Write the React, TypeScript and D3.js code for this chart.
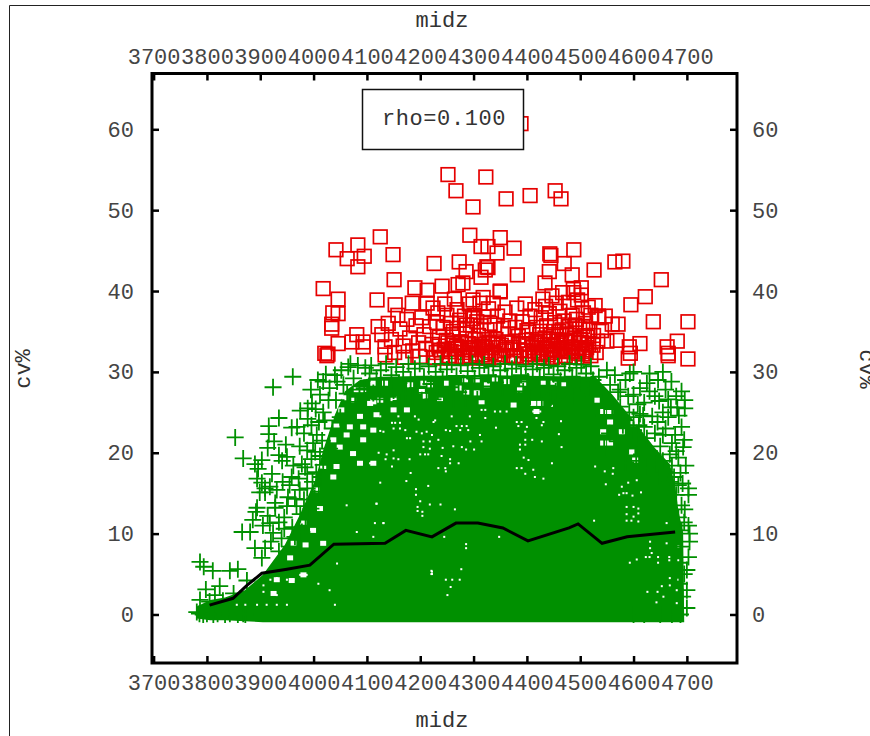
import { useEffect, useRef } from "react";
import * as d3 from "d3";

type Pt = [number, number];

const xTicks = [3700, 3800, 3900, 4000, 4100, 4200, 4300, 4400, 4500, 4600, 4700];
const yTicks = [0, 10, 20, 30, 40, 50, 60];

// black mean line
const meanLine: Pt[] = [
  [3805, 1.15], [3849, 2.0], [3875, 3.6], [3903, 5.1], [3950, 5.6], [3993, 6.1], [4038, 8.7], [4134, 8.8],
  [4173, 10.4], [4222, 9.6], [4267, 11.3], [4308, 11.3], [4355, 10.7], [4402, 9.1], [4479, 10.7],
  [4496, 11.2], [4541, 8.8], [4588, 9.6], [4678, 10.2],
];

// squares above the cut, the loose ones
const redOuter: Pt[] = [
  [4389, 60.7], [4252, 54.4], [4267, 52.4], [4323, 54.1], [4299, 50.4], [4361, 51.4], [4406, 51.8], [4453, 52.4],
  [4464, 51.4], [4293, 46.9], [4314, 45.5], [4327, 45.5], [4350, 46.6], [4344, 44.7], [4376, 45.3], [4125, 46.7],
  [4042, 45.1], [4083, 45.7], [4063, 44.0], [4095, 44.3], [4083, 43.0], [4149, 44.5], [4226, 43.4], [4273, 43.6],
  [4286, 42.4], [4325, 43.0], [4327, 42.9], [4322, 42.6], [4314, 41.7], [4382, 42.0], [4151, 41.4], [4018, 40.3],
  [4046, 39.0], [4119, 38.9], [4036, 37.3], [4046, 37.2], [4034, 35.9], [4034, 35.4], [4046, 33.5], [4081, 34.6],
  [4072, 33.7], [4093, 33.7], [4093, 33.1], [4021, 32.3], [4027, 32.2], [4025, 32.0], [4443, 44.6], [4445, 44.4],
  [4488, 45.1], [4470, 43.4], [4526, 42.6], [4565, 43.6], [4580, 43.7], [4442, 42.4], [4485, 42.0], [4652, 41.4],
  [4434, 41.0], [4350, 40.0], [4622, 39.3], [4595, 38.3], [4502, 40.4], [4488, 39.8], [4637, 36.2], [4702, 36.2],
  [4547, 36.9], [4534, 36.9], [4560, 35.9], [4571, 35.9], [4612, 33.5], [4682, 33.8], [4663, 33.1], [4665, 32.3],
  [4665, 32.0], [4702, 31.6], [4592, 33.1], [4594, 32.3], [4590, 31.7], [4550, 33.8], [4569, 33.9], [4524, 33.3],
];

// squares in the crowded band
const redDense: Pt[] = [
  [4128, 34.6], [4134, 33.1], [4134, 32.1], [4121, 35.6], [4140, 36.0], [4146, 34.0], [4152, 32.4], [4158, 37.0],
  [4153, 38.3], [4162, 35.3], [4168, 33.2], [4170, 31.8], [4175, 36.5], [4180, 34.2], [4185, 38.5], [4186, 32.6],
  [4190, 40.4], [4192, 35.7], [4197, 33.6], [4199, 31.9], [4203, 36.7], [4207, 34.6], [4210, 32.8], [4213, 38.5],
  [4213, 40.1], [4218, 35.6], [4222, 33.4], [4224, 37.9], [4227, 31.8], [4231, 36.1], [4233, 37.3], [4236, 34.3],
  [4238, 32.7], [4241, 40.6], [4243, 35.5], [4246, 38.4], [4250, 37.0], [4252, 33.6], [4255, 32.0], [4258, 36.0],
  [4260, 34.6], [4264, 39.0], [4266, 32.8], [4269, 37.7], [4271, 40.8], [4273, 35.4], [4276, 33.7], [4279, 31.9],
  [4280, 41.0], [4283, 36.9], [4286, 34.7], [4289, 32.7], [4292, 38.4], [4294, 35.8], [4297, 33.4], [4299, 38.9],
  [4301, 37.0], [4304, 32.2], [4306, 36.2], [4309, 34.5], [4312, 38.5], [4315, 33.2], [4318, 39.2], [4319, 36.8],
  [4322, 31.9], [4325, 35.2], [4328, 37.8], [4330, 33.7], [4333, 32.4], [4337, 38.5], [4339, 35.8], [4342, 34.0],
  [4345, 36.9], [4347, 32.1], [4350, 39.9], [4352, 33.3], [4356, 35.4], [4359, 37.4], [4362, 32.8], [4365, 34.7],
  [4368, 36.3], [4372, 33.6], [4375, 31.9], [4378, 35.5], [4381, 37.9], [4384, 34.4], [4387, 32.7], [4391, 36.2],
  [4394, 33.5], [4397, 38.4], [4400, 35.1], [4403, 32.2], [4406, 36.9], [4409, 34.0], [4412, 33.0], [4415, 37.7],
  [4418, 35.5], [4421, 32.4], [4424, 34.6], [4427, 36.7], [4430, 39.0], [4432, 33.3], [4435, 38.1], [4437, 35.7],
  [4440, 32.1], [4442, 37.2], [4445, 34.6], [4447, 39.4], [4449, 33.2], [4452, 36.1], [4455, 38.5], [4457, 32.6],
  [4460, 35.0], [4462, 37.5], [4465, 33.9], [4467, 39.8], [4470, 36.3], [4472, 32.0], [4475, 34.7], [4478, 38.6],
  [4480, 35.6], [4482, 33.1], [4485, 37.0], [4487, 40.2], [4489, 34.2], [4491, 32.5], [4493, 36.5], [4495, 38.9],
  [4497, 33.6], [4499, 35.3], [4502, 39.5], [4504, 32.2], [4506, 37.3], [4508, 34.5], [4510, 36.0], [4512, 33.0],
  [4515, 38.0], [4518, 35.2], [4528, 38.2], [4535, 36.7], [4540, 35.1], [4520, 37.0], [4525, 34.5], [4530, 32.4],
  [4533, 33.8], [4398, 33.9], [4404, 34.9], [4411, 32.1], [4417, 33.6], [4423, 31.8], [4428, 33.0], [4434, 34.2],
  [4439, 33.4], [4444, 32.4], [4450, 35.0], [4456, 34.0], [4461, 32.9], [4466, 35.2], [4471, 33.8], [4476, 32.5],
  [4481, 34.5], [4486, 33.0], [4490, 35.8], [4496, 32.3], [4501, 34.0], [4505, 35.6], [4509, 32.7], [4513, 34.3],
  [4262, 35.0], [4268, 33.2], [4274, 36.4], [4281, 32.4], [4287, 35.8], [4293, 33.0], [4298, 36.6], [4303, 34.0],
  [4308, 32.8], [4314, 35.7], [4320, 34.0], [4326, 32.6], [4331, 36.0], [4336, 33.5], [4230, 32.4], [4235, 33.2],
  [4240, 31.7], [4245, 32.8], [4249, 33.9], [4253, 31.8], [4258, 32.5], [4263, 33.5], [4267, 31.7], [4271, 32.9],
  [4278, 33.0], [4284, 31.8], [4290, 33.5], [4295, 32.0], [4300, 33.0], [4305, 31.7], [4311, 33.4], [4317, 32.1],
  [4323, 33.0], [4328, 31.7], [4334, 33.0], [4340, 32.2], [4346, 33.4], [4351, 31.8], [4357, 32.6], [4363, 33.6],
  [4369, 32.0], [4374, 33.0], [4380, 32.0], [4385, 33.4], [4390, 31.8], [4395, 32.6], [4401, 33.4], [4406, 31.8],
  [4414, 32.6], [4420, 33.6], [4426, 32.2], [4431, 31.7], [4437, 32.8], [4443, 33.8], [4448, 31.8], [4453, 32.7],
  [4458, 33.8], [4463, 31.9], [4468, 32.8], [4473, 33.7], [4478, 31.8], [4483, 32.6], [4488, 33.7], [4493, 31.8],
  [4498, 32.9], [4503, 33.6], [4507, 31.8], [4511, 32.5], [4516, 33.4], [4520, 32.0],
];

// the crosses that stay visible along the edge of the green mass
const greenLeft: Pt[] = [
  [3961, 29.4], [3924, 28.1], [3995, 27.8], [3935, 24.3], [3916, 23.3], [3916, 22.3], [3853, 21.9], [3959, 23.1],
  [3969, 23.2], [3868, 19.3], [3890, 18.6], [3903, 19.1], [3896, 18.0], [3935, 19.7], [3950, 19.5], [3941, 19.0],
  [3959, 17.0], [3894, 16.8], [3903, 16.3], [3909, 15.6], [3899, 15.1], [3918, 15.8], [3931, 15.4], [3909, 15.1],
  [3894, 13.2], [3928, 13.8], [3952, 14.5], [3974, 15.4], [3988, 15.6], [3965, 14.3], [3974, 20.8], [3988, 20.3],
  [4003, 20.1], [3984, 18.2], [3999, 21.2], [3989, 25.5], [3997, 26.1], [4018, 25.0], [3989, 24.2], [4021, 24.0],
  [4006, 22.2], [4042, 26.5], [4023, 29.7], [4044, 28.8], [4040, 29.6], [4065, 30.6], [4069, 31.0], [4097, 30.5],
  [4063, 27.3], [4069, 26.3], [3787, 6.5], [3794, 5.9], [3811, 5.4], [3843, 5.4], [3858, 5.6], [3798, 3.1],
  [3824, 3.5], [3787, 1.8], [3781, 0.3], [3875, 4.2], [3866, 10.2], [3886, 11.7], [3892, 12.7], [3881, 10.2],
  [3890, 8.2], [3903, 7.0], [3918, 11.3], [3924, 10.1], [3909, 8.2], [3928, 13.2], [3945, 12.0], [3960, 10.8],
  [3975, 12.4], [3940, 9.4], [3955, 8.4], [3985, 11.0], [3995, 13.1], [4010, 15.2], [4005, 17.6], [4018, 18.5],
  [4030, 20.5], [4016, 21.5], [4035, 23.0], [4050, 24.4], [4028, 26.5], [4056, 28.4], [4075, 29.2], [4086, 27.8],
  [4052, 30.2], [4083, 30.8], [4078, 26.0], [4095, 28.0], [4105, 29.8], [4012, 27.2], [4030, 28.0], [3786, 0.1],
  [3793, 0.0], [3800, 0.1], [3812, 0.0], [3820, 0.1], [3834, 0.0], [3843, 0.1], [3858, 0.0], [3868, 0.1],
  [3872, 0.0], [3805, 1.6], [3815, 2.4], [3830, 1.7], [3850, 2.6], [3862, 1.9], [3914, 12.2], [3935, 11.4],
  [3950, 13.4], [3968, 13.4], [3982, 14.2], [3905, 11.0], [3920, 9.0], [3935, 7.8], [3945, 10.6], [3965, 9.6],
  [3978, 10.2], [3992, 12.0], [4002, 14.4], [4014, 17.0], [3998, 16.4], [3988, 17.4], [3972, 16.8], [3955, 16.0],
  [3942, 16.4], [3922, 17.4], [3996, 19.2], [4012, 19.6], [3978, 18.6], [3962, 18.4], [3948, 21.0], [3982, 22.4],
  [3996, 23.4], [4010, 23.8], [3975, 25.2], [4004, 25.4], [3914, 20.6], [3926, 21.4], [4018, 28.8], [4008, 29.0],
];

const greenCenter: Pt[] = [
  [4108, 30.8], [4112, 27.4], [4118, 29.2], [4124, 26.6], [4126, 30.2], [4132, 28.1], [4136, 31.0], [4140, 26.9],
  [4146, 29.6], [4150, 27.7], [4155, 30.6], [4160, 28.6], [4164, 26.4], [4168, 30.0], [4172, 27.3], [4178, 31.0],
  [4182, 29.0], [4186, 26.8], [4190, 30.4], [4195, 28.0], [4199, 31.0], [4203, 26.5], [4207, 29.4], [4212, 27.4],
  [4216, 30.7], [4220, 28.5], [4224, 26.6], [4229, 30.0], [4233, 27.7], [4238, 31.0], [4242, 29.1], [4246, 26.9],
  [4250, 30.3], [4255, 28.1], [4259, 30.9], [4263, 26.6], [4268, 29.5], [4272, 27.5], [4276, 30.8], [4281, 28.6],
  [4285, 26.7], [4289, 30.1], [4294, 27.9], [4298, 31.0], [4302, 29.2], [4307, 26.6], [4311, 30.5], [4315, 28.2],
  [4320, 30.9], [4324, 26.9], [4328, 29.6], [4333, 27.7], [4337, 30.7], [4341, 28.7], [4346, 26.6], [4350, 30.2],
  [4354, 28.0], [4359, 31.0], [4363, 29.3], [4367, 26.8], [4372, 30.4], [4376, 28.2], [4380, 30.9], [4385, 26.6],
  [4389, 29.6], [4393, 27.6], [4398, 30.7], [4402, 28.8], [4406, 26.9], [4411, 30.3], [4415, 28.0], [4419, 31.0],
  [4424, 29.2], [4428, 26.6], [4432, 30.5], [4437, 28.3], [4441, 30.8], [4445, 26.8], [4450, 29.7], [4454, 27.6],
  [4458, 30.7], [4463, 28.9], [4467, 26.6], [4471, 30.2], [4476, 28.1], [4480, 31.0], [4485, 29.4], [4489, 27.0],
  [4493, 30.5], [4498, 28.4], [4502, 30.9], [4506, 27.4], [4511, 29.8], [4515, 28.0], [4520, 30.7], [4524, 29.0],
];

const greenRight: Pt[] = [
  [4593, 29.8], [4646, 29.0], [4671, 28.8], [4625, 28.6], [4612, 28.0], [4556, 28.4], [4571, 27.5], [4540, 27.3],
  [4525, 27.0], [4575, 25.7], [4696, 26.5], [4696, 25.5], [4693, 20.7], [4703, 15.6], [4703, 14.8], [4703, 11.0],
  [4705, 10.0], [4705, 9.0], [4703, 7.1], [4700, 5.5], [4700, 3.0], [4700, 0.8], [4690, 13.5], [4688, 17.5],
  [4690, 23.2], [4680, 27.0], [4660, 27.8], [4640, 27.0], [4620, 26.2], [4600, 27.2], [4585, 29.0], [4565, 29.6],
  [4550, 30.2], [4535, 29.4], [4690, 27.6], [4685, 24.6], [4670, 25.6], [4655, 25.0], [4635, 24.5], [4612, 24.8],
  [4592, 25.0], [4560, 25.4], [4545, 24.6], [4580, 23.4], [4600, 22.8], [4620, 23.2], [4640, 22.4], [4660, 23.0],
  [4678, 22.2], [4695, 21.6], [4555, 22.4], [4570, 21.4], [4590, 20.8], [4610, 21.0], [4630, 20.2], [4650, 20.8],
  [4668, 19.8], [4684, 19.4], [4698, 18.4], [4545, 20.6], [4565, 19.5], [4585, 18.8], [4605, 19.0], [4622, 18.2],
  [4642, 18.6], [4660, 17.6], [4676, 17.0], [4692, 16.2], [4684, 12.0], [4696, 13.0], [4695, 11.4], [4690, 8.4],
  [4695, 5.0], [4692, 2.2], [4600, 30.0], [4630, 29.8], [4655, 30.0], [4600, 0.0], [4620, 0.0], [4650, 0.0],
  [4672, 0.0], [4688, 0.0], [4680, 14.8], [4688, 6.4], [4686, 3.8], [4690, 10.4], [4608, 26.0], [4630, 27.6],
  [4648, 26.4], [4665, 26.6], [4618, 24.6], [4645, 23.8], [4665, 24.4], [4682, 25.6], [4590, 27.0], [4600, 24.4],
  [4625, 21.8], [4655, 22.2], [4672, 21.2], [4680, 20.2], [4638, 19.4], [4615, 19.8], [4655, 19.0], [4672, 18.4],
  [4630, 17.2], [4648, 17.0], [4668, 16.4], [4684, 16.0], [4610, 23.4], [4575, 27.8],
];

// where the crosses overlap into one solid block: [midz, low, high]
const solidMass: [number, number, number][] = [
  [3781, -0.5, 1.0], [3806, -0.7, 1.8], [3834, -0.7, 2.1], [3871, -0.85, 3.0], [3905, -0.95, 4.9], [3918, -0.95, 6.1],
  [3946, -0.95, 8.6], [3974, -0.95, 12.3], [4003, -0.95, 16.6], [4018, -0.95, 20.3], [4040, -0.95, 24.7],
  [4059, -0.95, 27.6], [4087, -0.95, 29.0], [4125, -0.95, 29.4], [4300, -0.95, 29.6], [4528, -0.95, 29.4],
  [4560, -0.95, 27.2], [4600, -0.95, 24.0], [4640, -0.95, 20.6], [4668, -0.95, 18.6], [4678, -0.95, 16.0],
  [4684, -0.95, 12.9], [4693, -0.95, 10.1], [4695, -0.95, -0.95],
];

// small holes left between the crosses
const holes: Pt[] = [
  [4118, 13.7], [4131, 11.3], [4112, 9.6], [4125, 16.3], [4174, 16.5], [4215, 15.9], [4192, 15.5], [4192, 14.8],
  [4200, 14.0], [4195, 13.3], [4195, 12.8], [4204, 12.7], [4204, 12.2], [4218, 13.6], [4238, 13.6], [4265, 13.0],
  [4245, 9.6], [4286, 8.7], [4286, 8.2], [4348, 9.6], [4221, 5.4], [4221, 5.0], [4277, 5.6], [4248, 4.3],
  [4260, 4.3], [4274, 4.3], [4257, 3.4], [4251, 2.4], [4150, 20.3], [4137, 19.8], [4122, 20.0], [4150, 19.3],
  [4135, 19.2], [4159, 19.2], [4180, 19.2], [4147, 18.3], [4182, 17.5], [4106, 18.7], [4240, 19.6], [4256, 19.2],
  [4256, 18.7], [4234, 18.1], [4247, 18.1], [4248, 17.7], [4272, 18.7], [4381, 18.1], [4390, 18.1], [4397, 17.4],
  [4412, 17.9], [4415, 17.0], [4431, 16.8], [4447, 18.7], [4394, 19.4], [4403, 19.1], [4465, 20.7], [4397, 21.6],
  [4410, 21.6], [4428, 21.4], [4387, 21.0], [4397, 21.0], [4387, 20.4], [4206, 21.4], [4218, 21.4], [4234, 21.6],
  [4206, 20.7], [4218, 20.5], [4209, 19.8], [4215, 19.8], [4200, 19.8], [4262, 20.8], [4278, 20.7], [4286, 20.4],
  [4301, 20.4], [4242, 20.6], [4294, 21.4], [4312, 22.2], [4315, 21.4], [4268, 23.3], [4278, 23.3], [4287, 23.3],
  [4275, 22.8], [4290, 22.8], [4256, 22.7], [4248, 22.8], [4225, 23.8], [4228, 24.0], [4193, 22.6], [4203, 22.4],
  [4212, 22.6], [4175, 21.8], [4181, 21.8], [4222, 22.2], [4150, 23.0], [4162, 23.0], [4172, 22.8], [4112, 22.7],
  [4125, 22.7], [4131, 22.6], [4125, 24.5], [4159, 24.5], [4147, 23.7], [4153, 23.7], [4162, 23.7], [4190, 24.5],
  [4197, 24.1], [4259, 24.5], [4293, 24.5], [4322, 24.3], [4342, 23.1], [4381, 23.8], [4390, 23.8], [4384, 23.3],
  [4400, 23.2], [4397, 22.6], [4418, 24.3], [4431, 23.8], [4428, 23.4], [4464, 23.9], [4460, 22.3], [4412, 25.1],
  [4425, 25.1], [4412, 26.1], [4447, 25.8], [4362, 25.1], [4350, 25.1], [4340, 25.1], [4322, 25.3], [4315, 25.3],
  [4587, 13.3], [4600, 13.3], [4609, 13.1], [4609, 12.5], [4600, 12.1], [4587, 12.4], [4587, 11.6], [4596, 11.6],
  [4609, 11.5], [4662, 11.3], [4526, 11.6], [4631, 8.2], [4634, 7.6], [4623, 7.1], [4630, 7.1], [4646, 7.1],
  [4646, 6.4], [4593, 6.4], [4606, 6.8], [4667, 7.1], [4667, 6.7], [4662, 8.8], [4631, 9.0], [4626, 2.8],
  [4645, 2.8], [4643, 1.5], [4656, 2.2], [4653, 3.5], [4668, 3.6], [4668, 4.5], [4578, 15.8], [4581, 15.0],
  [4573, 14.8], [4587, 15.0], [4598, 14.7], [4614, 15.1], [4548, 16.1], [4562, 18.1], [4528, 18.3], [4546, 17.7],
  [4561, 17.4], [4590, 16.3], [4606, 16.6], [4684, 8.4], [4684, 6.7], [4684, 4.3], [4681, 3.0], [4681, 1.4],
  [3906, 3.6], [3919, 4.3], [3931, 4.5], [3931, 2.4], [3950, 4.3], [3962, 4.3], [3975, 4.9], [3987, 4.9],
  [3906, 2.8], [3912, 1.2], [3894, 1.2], [3931, 1.2], [3950, 1.2], [3856, 1.2], [3872, 1.2], [4040, 1.2],
  [4009, 3.8], [4030, 3.0], [4044, 6.3], [4081, 10.2], [4115, 11.3], [4131, 11.3], [4062, 13.5], [4118, 13.7],
  [4222, 5.3], [4222, 5.0],
];

// wider gaps in the loose top band, left shoulder and right shoulder
const wideHoles: Pt[] = [
  [4203, 27.6], [4218, 28.4], [4134, 28.6], [4112, 28.6], [4112, 26.3], [4125, 26.5], [4150, 25.3], [4206, 28.6],
  [4181, 28.4], [4250, 28.6], [4284, 28.9], [4306, 29.0], [4340, 29.0], [4362, 28.8], [4393, 28.6], [4387, 27.8],
  [4431, 28.6], [4418, 25.1], [4209, 27.0], [4237, 26.7], [4287, 27.5], [4306, 27.4], [4175, 25.3], [4150, 26.7],
  [4272, 28.0], [4315, 26.3], [4375, 25.9], [4412, 26.1], [4425, 26.1], [4118, 24.7], [4325, 28.4], [4468, 28.4],
  [4450, 28.6], [4556, 25.1], [4543, 25.1], [4556, 23.8], [4600, 23.6], [4596, 20.1], [4603, 19.1], [4543, 21.2],
  [4556, 21.2], [4578, 22.6], [4543, 22.6], [4531, 26.5], [4074, 26.5], [4052, 25.3], [4093, 23.2], [4037, 21.6],
  [4049, 20.7], [4074, 19.9], [4093, 21.6], [4037, 17.0], [4043, 18.3], [4006, 15.4], [4018, 18.3], [4062, 22.2],
  [4068, 23.2], [4106, 26.1], [4087, 24.5], [4112, 22.8], [4112, 18.7], [4087, 18.7], [4093, 27.8], [4081, 27.8],
  [4059, 26.8], [4043, 23.3], [3925, 2.6], [3959, 4.2], [3931, 4.3], [3981, 4.9], [3962, 8.8], [3999, 10.4],
  [4018, 8.8], [3981, 11.3], [4012, 13.1], [3956, 7.0], [3985, 8.6],
];

const GREEN = "#009000";
const RED = "#e60000";
const FONT = "'Liberation Mono', monospace";

export default function App() {
  const svgRef = useRef<SVGSVGElement>(null);

  useEffect(() => {
    const svg = d3.select(svgRef.current);
    svg.selectAll("*").remove();

    const left = 152, right = 737, top = 73.5, bottom = 663;
    const x = d3.scaleLinear().domain([3697, 4794]).range([left, right]);
    const y = d3.scaleLinear().domain([-6, 66.9]).range([bottom, top]);

    // page frame, cut off at the right and bottom
    svg.append("path").attr("d", "M9.5,736V5.5H870").attr("fill", "none").attr("stroke", "#222").attr("stroke-width", 1);

    // squares first, crosses go over them
    svg.append("g")
      .selectAll("rect")
      .data([...redOuter, ...redDense])
      .join("rect")
      .attr("x", (d) => x(d[0]) - 6.8)
      .attr("y", (d) => y(d[1]) - 6.8)
      .attr("width", 13.6)
      .attr("height", 13.6)
      .attr("fill", "none")
      .attr("stroke", RED)
      .attr("stroke-width", 1.7);

    const area = d3
      .area<[number, number, number]>()
      .x((d) => x(d[0]))
      .y0((d) => y(d[1]))
      .y1((d) => y(d[2]));
    svg.append("path").datum(solidMass).attr("fill", GREEN).attr("d", area);

    svg.append("g")
      .attr("fill", "#fff")
      .selectAll("rect")
      .data(holes)
      .join("rect")
      .attr("x", (d) => x(d[0]) - 1)
      .attr("y", (d) => y(d[1]) - 1)
      .attr("width", 2)
      .attr("height", 2);

    svg.append("g")
      .attr("fill", "#fff")
      .selectAll("rect")
      .data(wideHoles)
      .join("rect")
      .attr("x", (d) => x(d[0]) - 3)
      .attr("y", (d) => y(d[1]) - 2.5)
      .attr("width", 6)
      .attr("height", 5);

    svg.append("g")
      .selectAll("path")
      .data([...greenLeft, ...greenRight, ...greenCenter])
      .join("path")
      .attr("d", (d) => `M${x(d[0]) - 8.5},${y(d[1])}h17M${x(d[0])},${y(d[1]) - 8.5}v17`)
      .attr("fill", "none")
      .attr("stroke", GREEN)
      .attr("stroke-width", 1.8);

    const line = d3.line<Pt>().x((d) => x(d[0])).y((d) => y(d[1]));
    svg.append("path")
      .datum(meanLine)
      .attr("fill", "none")
      .attr("stroke", "#000")
      .attr("stroke-width", 3)
      .attr("d", line);

    // axes, ticks point inward
    const styleAxis = (g: any) => {
      g.select(".domain").remove();
      g.selectAll("line").attr("stroke", "#000").attr("stroke-width", 2.5);
      g.selectAll("text").attr("font-family", FONT).attr("font-size", 22).attr("fill", "#444");
    };
    const gBottom = svg.append("g").attr("transform", `translate(0,${bottom})`)
      .call(d3.axisBottom(x).tickValues(xTicks).tickFormat(d3.format("d")).tickSizeInner(-7).tickSizeOuter(0).tickPadding(11));
    styleAxis(gBottom);
    const gTop = svg.append("g").attr("transform", `translate(0,${top})`)
      .call(d3.axisTop(x).tickValues(xTicks).tickFormat(d3.format("d")).tickSizeInner(-7).tickSizeOuter(0).tickPadding(10));
    styleAxis(gTop);
    const gLeft = svg.append("g").attr("transform", `translate(${left},0)`)
      .call(d3.axisLeft(y).tickValues(yTicks).tickFormat(d3.format("d")).tickSizeInner(-7).tickSizeOuter(0).tickPadding(18));
    styleAxis(gLeft);
    const gRight = svg.append("g").attr("transform", `translate(${right},0)`)
      .call(d3.axisRight(y).tickValues(yTicks).tickFormat(d3.format("d")).tickSizeInner(-7).tickSizeOuter(0).tickPadding(15));
    styleAxis(gRight);

    svg.append("rect")
      .attr("x", left).attr("y", top)
      .attr("width", right - left).attr("height", bottom - top)
      .attr("fill", "none").attr("stroke", "#000").attr("stroke-width", 3);

    // rho box sits on top of the data
    svg.append("rect")
      .attr("x", 362.5).attr("y", 89.5).attr("width", 161).attr("height", 60)
      .attr("fill", "#fff").attr("stroke", "#111").attr("stroke-width", 1.5);

    const label = (txt: string, tx: number, ty: number, rot = 0, spacing = 0) =>
      svg.append("text")
        .attr("transform", `translate(${tx},${ty}) rotate(${rot})`)
        .attr("text-anchor", "middle")
        .attr("font-family", FONT)
        .attr("font-size", 22)
        .attr("letter-spacing", spacing)
        .attr("fill", "#333")
        .text(txt);

    label("rho=0.100", 444, 125, 0, 0.6);
    label("midz", 442, 27);
    label("midz", 442, 727);
    label("cv%", 30, 369, -90);
    label("cv%", 860, 369, 90);
  }, []);

  return (
    <svg
      ref={svgRef}
      width={870}
      height={736}
      style={{ position: "absolute", left: 0, top: 0, display: "block", background: "#fff" }}
    />
  );
}
